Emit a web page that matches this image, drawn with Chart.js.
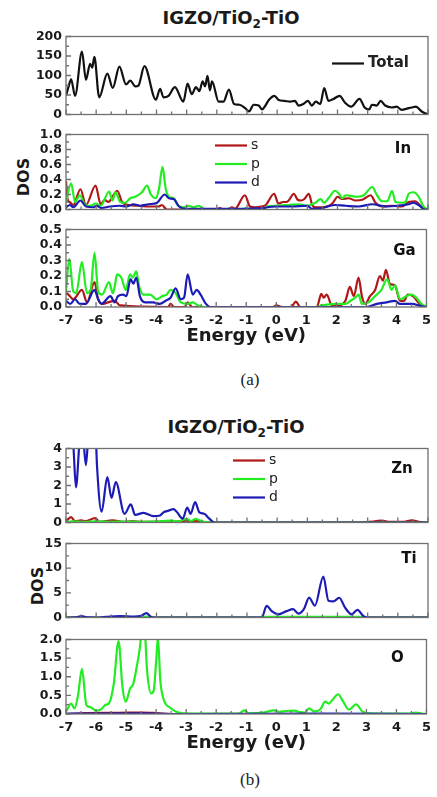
<!DOCTYPE html>
<html>
<head>
<meta charset="utf-8">
<script src="https://cdn.jsdelivr.net/npm/chart.js@4.4.1/dist/chart.umd.min.js"></script>
<style>
  body { margin: 0; background: #fff; }
  #page { position: relative; width: 437px; height: 797px; overflow: hidden; font-family: "DejaVu Sans", sans-serif; color: #1a1a1a; }
  canvas { position: absolute; left: 0; }
  .title { position: absolute; font-weight: bold; font-size: 18px; line-height: 18px; white-space: nowrap; transform: translateX(-50%); }
  .title sub { font-size: 12px; line-height: 0; vertical-align: -4px; }
  .dos { position: absolute; font-weight: bold; font-size: 16px; line-height: 16px; white-space: nowrap; transform: translate(-50%, -50%) rotate(-90deg); }
  .cap { position: absolute; font-family: "Liberation Serif", serif; font-size: 17px; line-height: 17px; transform: translateX(-50%); }
</style>
</head>
<body>
<div id="page">
  <div class="title" style="left:231px; top:9px;">IGZO/TiO<sub>2</sub>-TiO</div>
  <div class="dos" style="left:24px; top:177px;">DOS</div>
  <div class="cap" style="left:250px; top:371px;">(a)</div>
  <div class="title" style="left:236px; top:418px;">IGZO/TiO<sub>2</sub>-TiO</div>
  <div class="dos" style="left:38px; top:586px;">DOS</div>
  <div class="cap" style="left:250px; top:771px;">(b)</div>
</div>
<script>
// energy (eV), DOS pairs
const totalDos = [[-7,48],[-6.92,70],[-6.83,90],[-6.7,48],[-6.47,161],[-6.34,89],[-6.2,130],[-6.13,120],[-6.06,148],[-5.9,44],[-5.63,105],[-5.45,68],[-5.23,123],[-5.01,77],[-4.87,87],[-4.7,72],[-4.6,74],[-4.4,124],[-4.02,38],[-3.88,66],[-3.77,44],[-3.6,48],[-3.39,70],[-3.11,33],[-2.97,79],[-2.83,52],[-2.69,70],[-2.58,60],[-2.47,85],[-2.39,72],[-2.31,99],[-2.23,62],[-2.16,85],[-1.94,33],[-1.78,33],[-1.6,64],[-1.43,27],[-1.25,25],[-1.07,17],[-0.93,8],[-0.78,25],[-0.61,23],[-0.5,13],[-0.39,23],[-0.27,38],[-0.09,48],[0.05,37],[0.24,35],[0.43,33],[0.59,35],[0.71,23],[0.87,27],[1.02,35],[1.15,23],[1.28,33],[1.43,27],[1.56,68],[1.7,35],[1.87,40],[2.07,48],[2.25,30],[2.45,20],[2.73,40],[2.9,18],[3.05,13],[3.14,25],[3.3,23],[3.43,35],[3.58,23],[3.8,18],[3.96,20],[4.13,12],[4.3,15],[4.46,18],[4.6,20],[4.77,9],[4.9,3],[5,0]];

const inS = [[-7,0.38],[-6.95,0.14],[-6.88,0.1],[-6.76,0.06],[-6.52,0.27],[-6.34,0.06],[-6.02,0.32],[-5.85,0.07],[-5.72,0.13],[-5.6,0.1],[-5.3,0.25],[-5.14,0.1],[-4.92,0.06],[-4.59,0.05],[-4.26,0.04],[-3.93,0.04],[-3.82,0.06],[-3.66,0],[-2.0,0],[-1.9,0.02],[-1.8,0],[-1.6,0.01],[-1.5,0.03],[-1.4,0.01],[-1.07,0.19],[-0.9,0.04],[-0.74,0.03],[-0.52,0.04],[-0.38,0.06],[-0.1,0.21],[0.04,0.08],[0.2,0.1],[0.3,0.1],[0.4,0.13],[0.55,0.21],[0.68,0.13],[0.8,0.12],[0.9,0.14],[1.05,0.21],[1.16,0.06],[1.27,0.03],[1.5,0.03],[1.72,0.05],[1.85,0.09],[2.0,0.17],[2.15,0.14],[2.37,0.15],[2.6,0.12],[2.82,0.13],[3.1,0.19],[3.26,0.09],[3.48,0.04],[3.81,0.05],[4.14,0.04],[4.36,0.1],[4.58,0.11],[4.75,0.05],[4.9,0],[5,0]];
const inP = [[-7,0.1],[-6.83,0.35],[-6.7,0.1],[-6.54,0.19],[-6.37,0.06],[-6.2,0.05],[-6.01,0.08],[-5.85,0.05],[-5.57,0.24],[-5.46,0.12],[-5.36,0.23],[-5.2,0.1],[-5.04,0.09],[-4.87,0.15],[-4.7,0.17],[-4.48,0.23],[-4.31,0.32],[-4.2,0.21],[-4.03,0.15],[-3.92,0.27],[-3.8,0.57],[-3.7,0.29],[-3.59,0.17],[-3.43,0.15],[-3.3,0.06],[-3.1,0.03],[-2.93,0.05],[-2.77,0.03],[-2.6,0.05],[-2.44,0.01],[-2.2,0],[-1.1,0],[-1.05,0.02],[-0.9,0],[-0.5,0],[-0.33,0.04],[0.0,0.05],[0.38,0.06],[0.72,0.07],[1.0,0.05],[1.15,0.07],[1.27,0.09],[1.44,0.14],[1.55,0.09],[1.72,0.16],[1.92,0.25],[2.05,0.21],[2.16,0.15],[2.27,0.19],[2.46,0.18],[2.65,0.17],[2.87,0.19],[3.15,0.3],[3.31,0.19],[3.48,0.11],[3.65,0.11],[3.81,0.25],[3.92,0.1],[4.14,0.09],[4.25,0.1],[4.36,0.21],[4.52,0.23],[4.69,0.17],[4.85,0.04],[5,0]];
const inD = [[-7,0.03],[-6.87,0.06],[-6.76,0.03],[-6.52,0.12],[-6.34,0.04],[-6.1,0.03],[-5.99,0.05],[-5.83,0.02],[-5.55,0.04],[-5.22,0.05],[-5.0,0.04],[-4.76,0.07],[-4.54,0.05],[-4.26,0.07],[-3.98,0.09],[-3.73,0.2],[-3.59,0.15],[-3.43,0.14],[-3.25,0.04],[-3.03,0.01],[-1.5,0.01],[-0.4,0.02],[-0.33,0.03],[0.0,0.04],[0.5,0.04],[1.0,0.05],[1.15,0.01],[1.5,0.02],[1.9,0.06],[2.27,0.05],[2.7,0.04],[3.15,0.07],[3.6,0.04],[4.0,0.05],[4.36,0.07],[4.52,0.09],[4.69,0.06],[4.9,0],[5,0]];

const gaS = [[-7,0.09],[-6.92,0.08],[-6.76,0.05],[-6.47,0.11],[-6.3,0.03],[-6.05,0.16],[-5.93,0.05],[-5.76,0.02],[-5.6,0.03],[-5.38,0.04],[-5.2,0.01],[-3.6,0],[-3.52,0.02],[-3.4,0],[-3.05,0],[-2.95,0.03],[-2.8,0],[-0.1,0],[0,0.01],[0.2,0],[0.5,0],[0.65,0.035],[0.8,0],[1.35,0],[1.5,0.085],[1.58,0.06],[1.68,0.08],[1.85,0.01],[2.07,0.01],[2.3,0.04],[2.45,0.13],[2.58,0.07],[2.74,0.19],[2.85,0.07],[2.96,0.02],[3.12,0.07],[3.29,0.11],[3.45,0.2],[3.55,0.17],[3.65,0.24],[3.78,0.15],[3.95,0.14],[4.12,0.04],[4.25,0.04],[4.38,0.08],[4.55,0.07],[4.77,0.02],[4.92,0],[5,0]];
const gaP = [[-7,0.1],[-6.89,0.31],[-6.76,0.1],[-6.66,0.09],[-6.47,0.29],[-6.3,0.09],[-6.18,0.11],[-6.05,0.35],[-5.93,0.1],[-5.8,0.08],[-5.57,0.16],[-5.44,0.09],[-5.38,0.13],[-5.3,0.21],[-5.16,0.19],[-5.01,0.11],[-4.87,0.21],[-4.78,0.19],[-4.66,0.23],[-4.56,0.13],[-4.42,0.08],[-4.2,0.08],[-3.98,0.05],[-3.8,0.07],[-3.65,0.08],[-3.52,0.11],[-3.35,0.09],[-3.18,0.03],[-2.95,0.02],[-2.78,0.03],[-2.6,0.01],[-2.4,0],[1.35,0],[1.52,0.01],[1.96,0.02],[2.3,0.02],[2.47,0.04],[2.63,0.06],[2.74,0.08],[2.85,0.02],[3.07,0.03],[3.29,0.07],[3.5,0.11],[3.69,0.18],[3.84,0.11],[3.95,0.14],[4.12,0.05],[4.33,0.07],[4.5,0.08],[4.66,0.06],[4.83,0.02],[5,0]];
const gaD = [[-7,0.04],[-6.86,0.02],[-6.7,0.05],[-6.54,0.02],[-6.34,0.02],[-6.05,0.11],[-5.93,0.05],[-5.82,0.02],[-5.52,0.07],[-5.38,0.03],[-5.27,0.07],[-5.1,0.08],[-4.99,0.07],[-4.85,0.18],[-4.76,0.15],[-4.66,0.19],[-4.54,0.07],[-4.37,0.03],[-4.1,0.03],[-3.88,0.02],[-3.68,0.04],[-3.52,0.06],[-3.35,0.12],[-3.18,0.05],[-3.07,0.06],[-2.95,0.21],[-2.78,0.08],[-2.65,0.11],[-2.52,0.08],[-2.34,0.02],[-2.2,0],[3.0,0],[3.35,0.02],[3.67,0.03],[3.95,0.04],[4.12,0.02],[4.5,0.02],[4.85,0.005],[5,0]];

const znS = [[-7,0.07],[-6.83,0.29],[-6.7,0.07],[-6.5,0.12],[-6.35,0.07],[-6.04,0.24],[-5.88,0.03],[-5.45,0.12],[-5.1,0.04],[-4.8,0.07],[-4.5,0.03],[-3.5,0.03],[-3.0,0.1],[-2.85,0.04],[-2.7,0.1],[-2.5,0.02],[-2.2,0],[2.8,0],[3.2,0.05],[3.41,0.1],[3.7,0.04],[4.2,0.04],[4.46,0.12],[4.7,0.03],[5,0]];
const znP = [[-7,0.03],[-6.8,0.06],[-6.4,0.03],[-6.0,0.06],[-5.5,0.04],[-5.0,0.05],[-4.5,0.04],[-3.8,0.08],[-3.5,0.1],[-3.3,0.05],[-3.0,0.2],[-2.85,0.08],[-2.7,0.2],[-2.5,0.06],[-2.2,0],[5,0]];
const znD = [[-7,5],[-6.92,6],[-6.84,6],[-6.75,4],[-6.67,1.9],[-6.57,4],[-6.5,6],[-6.42,4.5],[-6.34,3.1],[-6.27,4.5],[-6.2,6],[-6.05,6],[-5.97,3],[-5.82,0.58],[-5.63,2.45],[-5.49,1.33],[-5.35,2.19],[-5.06,0.47],[-4.85,0.98],[-4.71,0.41],[-4.43,0.52],[-4.1,0.34],[-3.88,0.38],[-3.77,0.55],[-3.6,0.64],[-3.44,0.72],[-3.33,0.58],[-3.13,0.21],[-2.98,0.81],[-2.87,0.47],[-2.72,1.1],[-2.58,0.55],[-2.42,0.47],[-2.25,0.21],[-2.09,0],[5,0]];

const tiS = [[-7,0],[5,0]];
const tiP = [[-7,0],[-5.6,0],[-5.4,0.1],[-4.6,0.1],[-4.35,0.2],[-4.15,0],[-0.55,0],[-0.4,0.12],[2.8,0.12],[2.95,0],[5,0]];
const tiD = [[-7,0],[-6.7,0.02],[-6.48,0.26],[-6.3,0.03],[-6.0,0],[-5.8,0.05],[-5.55,0.2],[-5.2,0.3],[-4.75,0.2],[-4.5,0.35],[-4.34,0.9],[-4.15,0.05],[-3.9,0],[-0.51,0],[-0.35,2.35],[-0.18,1.3],[0.04,0.65],[0.31,1.3],[0.53,1.7],[0.7,0.78],[0.89,1.76],[1.06,4.04],[1.25,2.4],[1.53,8.28],[1.7,3.4],[1.86,3.26],[2.06,4.0],[2.25,2.0],[2.47,0.65],[2.66,1.56],[2.86,0.26],[3.0,0],[5,0]];

const oS = [[-7,0],[-6.5,0.02],[-5.25,0.03],[-4.45,0.04],[-3.94,0.02],[-3.5,0],[5,0]];
const oP = [[-7,0.06],[-6.83,0.28],[-6.72,0.15],[-6.6,0.5],[-6.47,1.21],[-6.32,0.24],[-6.18,0.18],[-6.0,0.09],[-5.84,0.12],[-5.69,0.24],[-5.56,0.3],[-5.41,0.81],[-5.25,1.96],[-5.12,0.72],[-5.01,0.33],[-4.87,0.68],[-4.76,0.81],[-4.65,1.25],[-4.54,1.78],[-4.45,2.5],[-4.38,2.3],[-4.3,1.16],[-4.16,0.55],[-4.08,0.63],[-3.99,1.52],[-3.94,2.05],[-3.86,0.9],[-3.72,0.33],[-3.55,0.18],[-3.33,0.06],[-3.1,0.02],[-1.25,0.01],[-1.07,0.1],[-0.9,0.02],[-0.45,0.04],[-0.07,0.1],[0.1,0.06],[0.32,0.08],[0.6,0.09],[0.8,0.05],[0.95,0.04],[1.1,0.15],[1.25,0.07],[1.45,0.11],[1.63,0.33],[1.75,0.28],[1.86,0.37],[2.06,0.53],[2.2,0.37],[2.42,0.12],[2.66,0.26],[2.86,0.07],[3.1,0.02],[4.4,0.01],[4.64,0.04],[4.85,0.01],[5,0]];
const oD = [[-7,0.01],[-4.4,0.02],[-3.5,0],[1.5,0.01],[5,0]];

const orbitals = ['s', 'p', 'd'];
const orbitalColors = { s: '#b01818', p: '#22ec22', d: '#1c1cb4' };

const tickFont = { family: 'DejaVu Sans', size: 12.5, weight: 'bold' };
const frameColor = '#707070';

// frame, inward ticks, legends and element labels
const panelDeco = {
  id: 'panelDeco',
  afterDraw(chart, args, opts) {
    const { ctx, chartArea: a, scales: { x, y } } = chart;
    ctx.save();
    ctx.strokeStyle = frameColor;
    ctx.lineWidth = 1.3;
    ctx.strokeRect(a.left, a.top, a.width, a.height);

    const xt = x.ticks.map(t => t.value);
    ctx.beginPath();
    xt.forEach((v, i) => {
      const px = x.getPixelForValue(v);
      ctx.moveTo(px, a.bottom); ctx.lineTo(px, a.bottom - 5);
      if (i < xt.length - 1) {
        const mx = x.getPixelForValue((v + xt[i + 1]) / 2);
        ctx.moveTo(mx, a.bottom); ctx.lineTo(mx, a.bottom - 3);
      }
    });
    const yt = y.ticks.map(t => t.value);
    yt.forEach((v, i) => {
      const py = y.getPixelForValue(v);
      ctx.moveTo(a.left, py); ctx.lineTo(a.left + 5, py);
      if (i < yt.length - 1) {
        const my = y.getPixelForValue((v + yt[i + 1]) / 2);
        ctx.moveTo(a.left, my); ctx.lineTo(a.left + 3, my);
      }
    });
    ctx.stroke();

    if (opts.label) {
      ctx.fillStyle = '#111';
      ctx.font = 'bold 15px "DejaVu Sans"';
      ctx.textAlign = 'center';
      ctx.textBaseline = 'middle';
      ctx.fillText(opts.label, a.right - opts.labelDx, a.top + opts.labelDy);
    }
    if (opts.legend) {
      const L = opts.legend;
      L.items.forEach((it, i) => {
        const ly = a.top + L.dy + i * L.gap;
        ctx.strokeStyle = it.color;
        ctx.lineWidth = 2.2;
        ctx.beginPath();
        ctx.moveTo(a.left + L.dx, ly);
        ctx.lineTo(a.left + L.dx + L.len, ly);
        ctx.stroke();
        ctx.fillStyle = '#222';
        ctx.font = L.font;
        ctx.textAlign = 'left';
        ctx.textBaseline = 'middle';
        ctx.fillText(it.text, a.left + L.dx + L.len + 4, ly);
      });
    }
    ctx.restore();
  }
};

const spdLegend = (dx, dy, gap) => ({
  dx, dy, gap, len: 32, font: '14px "DejaVu Sans"',
  items: orbitals.map(o => ({ text: o, color: orbitalColors[o] }))
});

const orb = (s, p, d) => [
  { pts: d, color: orbitalColors.d },
  { pts: p, color: orbitalColors.p },
  { pts: s, color: orbitalColors.s }
];

const panels = [
  { top: 35, bottom: 116, yMax: 200, yStep: 50, dec: 0, axis: false,
    series: [{ pts: totalDos, color: '#111' }],
    deco: { legend: { dx: 266, dy: 27, gap: 0, len: 32, font: 'bold 15px "DejaVu Sans"', items: [{ text: 'Total', color: '#111' }] } } },
  { top: 133, bottom: 211, yMax: 1.0, yStep: 0.2, dec: 1, axis: false,
    series: orb(inS, inP, inD),
    deco: { label: 'In', labelDx: 25, labelDy: 15, legend: spdLegend(149, 11, 18.5) } },
  { top: 228, bottom: 307, yMax: 0.5, yStep: 0.1, dec: 1, axis: true,
    series: orb(gaS, gaP, gaD),
    deco: { label: 'Ga', labelDx: 22, labelDy: 22 } },
  { top: 447, bottom: 524, yMax: 4, yStep: 1, dec: 0, axis: false,
    series: orb(znS, znP, znD),
    deco: { label: 'Zn', labelDx: 26, labelDy: 21, legend: spdLegend(167, 12, 18.5) } },
  { top: 542, bottom: 619, yMax: 15, yStep: 5, dec: 0, axis: false,
    series: orb(tiS, tiP, tiD),
    deco: { label: 'Ti', labelDx: 19, labelDy: 16 } },
  { top: 638, bottom: 714, yMax: 2.0, yStep: 0.5, dec: 1, axis: true,
    series: orb(oS, oP, oD),
    deco: { label: 'O', labelDx: 29, labelDy: 19 } }
];

const page = document.getElementById('page');

const makePanel = (p) => {
  const axisH = p.axis ? 40 : 0;
  const cv = document.createElement('canvas');
  cv.width = 437;
  cv.height = 10 + (p.bottom - p.top) + (p.axis ? axisH + 2 : 10);
  cv.style.top = (p.top - 10) + 'px';
  page.appendChild(cv);

  new Chart(cv, {
    type: 'line',
    data: {
      datasets: p.series.map(s => ({
        data: s.pts.map(([e, v]) => ({ x: e, y: v })),
        borderColor: s.color,
        borderWidth: 2.2,
        pointRadius: 0,
        fill: false,
        cubicInterpolationMode: 'monotone'
      }))
    },
    options: {
      responsive: false,
      animation: false,
      devicePixelRatio: 1,
      layout: { padding: { top: 10, right: 9, bottom: p.axis ? 2 : 10, left: 0 } },
      plugins: {
        legend: { display: false },
        tooltip: { enabled: false },
        panelDeco: p.deco
      },
      scales: {
        x: {
          type: 'linear', min: -7, max: 5,
          display: p.axis,
          ticks: { stepSize: 1, padding: 6, color: '#1a1a1a', font: { family: 'DejaVu Sans', size: 13, weight: 'bold' }, maxRotation: 0, autoSkip: false },
          grid: { display: false, drawTicks: false },
          border: { display: false },
          title: { display: p.axis, text: 'Energy (eV)', color: '#1a1a1a', font: { family: 'DejaVu Sans', size: 18, weight: 'bold' }, padding: 0 },
          afterFit: s => { s.height = axisH; }
        },
        y: {
          min: 0, max: p.yMax,
          ticks: { stepSize: p.yStep, padding: 4, color: '#1a1a1a', font: tickFont, autoSkip: false, callback: v => Number(v).toFixed(p.dec) },
          grid: { display: false, drawTicks: false },
          border: { display: false },
          afterFit: s => { s.width = 66; }
        }
      }
    },
    plugins: [panelDeco]
  });
};

panels.forEach(makePanel);
</script>
</body>
</html>
